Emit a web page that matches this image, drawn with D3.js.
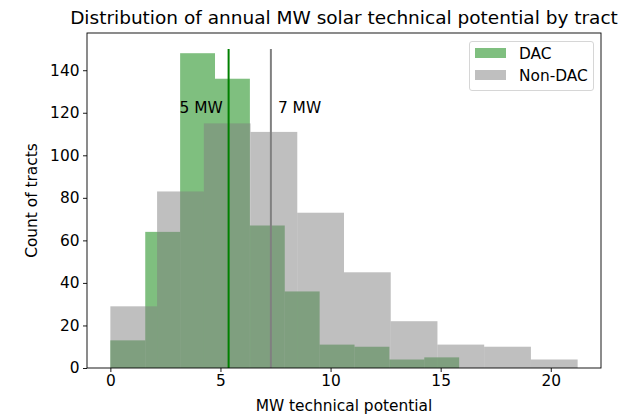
<!DOCTYPE html>
<html><head><meta charset="utf-8">
<script src="https://cdn.jsdelivr.net/npm/d3@7"></script>
<style>body{margin:0;background:#fff}svg text{font-family:"DejaVu Sans",sans-serif;fill:#000}</style>
</head><body><svg id="c" width="635" height="414"></svg>
<script>
const dacCounts = [13, 64, 148, 136, 67, 36, 11, 10, 4, 5];
const dacRange = [0, 15.84];
const nonDacCounts = [29, 83, 115, 111, 73, 45, 22, 11, 10, 4];
const nonDacRange = [0, 21.22];
const dacMean = 5.37, nonDacMean = 7.29;
const meanLabels = ["5 MW", "7 MW"];
const xTicks = [0, 5, 10, 15, 20];
const yTicks = [0, 20, 40, 60, 80, 100, 120, 140];

const FS = 15.4;
const svg = d3.select("#c");
const L = 87, R = 601, T = 33, B = 368;
const xMax = 21.22, pad = xMax * 0.05;
const x = d3.scaleLinear().domain([-pad, xMax + pad]).range([L, R]);
const y = d3.scaleLinear().domain([0, 157.5]).range([B, T]);

function bins(counts, range) {
  const w = (range[1] - range[0]) / counts.length;
  return counts.map((c, i) => ({x0: range[0] + i * w, x1: range[0] + (i + 1) * w, c}));
}
const g = svg.append("g");
g.selectAll("rect.dac").data(bins(dacCounts, dacRange)).join("rect")
  .attr("x", d => x(d.x0)).attr("width", d => x(d.x1) - x(d.x0))
  .attr("y", d => y(d.c)).attr("height", d => y(0) - y(d.c))
  .attr("fill", "green").attr("fill-opacity", 0.5);
g.selectAll("rect.non").data(bins(nonDacCounts, nonDacRange)).join("rect")
  .attr("x", d => x(d.x0)).attr("width", d => x(d.x1) - x(d.x0))
  .attr("y", d => y(d.c)).attr("height", d => y(0) - y(d.c))
  .attr("fill", "grey").attr("fill-opacity", 0.5);

g.append("line").attr("x1", x(dacMean)).attr("x2", x(dacMean)).attr("y1", y(0)).attr("y2", y(150))
  .attr("stroke", "green").attr("stroke-width", 2);
g.append("line").attr("x1", x(nonDacMean)).attr("x2", x(nonDacMean)).attr("y1", y(0)).attr("y2", y(150))
  .attr("stroke", "grey").attr("stroke-width", 2);
svg.append("text").attr("x", x(dacMean - 2.23)).attr("y", y(120)).attr("font-size", FS).text(meanLabels[0]);
svg.append("text").attr("x", x(nonDacMean + 0.32)).attr("y", y(120)).attr("font-size", FS).text(meanLabels[1]);

// axes
const xa = svg.append("g").attr("transform", `translate(0,${B})`)
  .call(d3.axisBottom(x).tickValues(xTicks).tickSize(4).tickPadding(3.5));
const ya = svg.append("g").attr("transform", `translate(${L},0)`)
  .call(d3.axisLeft(y).tickValues(yTicks).tickSize(4).tickPadding(3.5));
[xa, ya].forEach(a => {
  a.select(".domain").remove();
  a.selectAll("text").attr("font-size", FS).attr("font-family", "DejaVu Sans");
  a.selectAll("line").attr("stroke", "#000").attr("stroke-width", 0.9);
});
svg.append("rect").attr("x", L).attr("y", T).attr("width", R - L).attr("height", B - T)
  .attr("fill", "none").attr("stroke", "#000").attr("stroke-width", 0.9);

svg.append("text").attr("x", (L + R) / 2).attr("y", 24).attr("text-anchor", "middle")
  .attr("font-size", 18.5).text("Distribution of annual MW solar technical potential by tract");
svg.append("text").attr("x", (L + R) / 2).attr("y", 411).attr("text-anchor", "middle")
  .attr("font-size", FS).text("MW technical potential");
svg.append("text").attr("transform", `translate(37,${(T + B) / 2}) rotate(-90)`).attr("text-anchor", "middle")
  .attr("font-size", FS).text("Count of tracts");

// legend
const lg = svg.append("g");
lg.append("rect").attr("x", 469.5).attr("y", 41.5).attr("width", 124).attr("height", 49).attr("rx", 2.5)
  .attr("fill", "#fff").attr("fill-opacity", 0.8).attr("stroke", "#ccc").attr("stroke-width", 0.8);
const items = [["DAC", "green"], ["Non-DAC", "grey"]];
items.forEach((it, i) => {
  const yy = 53 + i * 22;
  lg.append("rect").attr("x", 475).attr("y", yy - 5).attr("width", 31).attr("height", 10)
    .attr("fill", it[1]).attr("fill-opacity", 0.5);
  lg.append("text").attr("x", 519).attr("y", yy + 5.5).attr("font-size", FS).text(it[0]);
});
</script></body></html>
